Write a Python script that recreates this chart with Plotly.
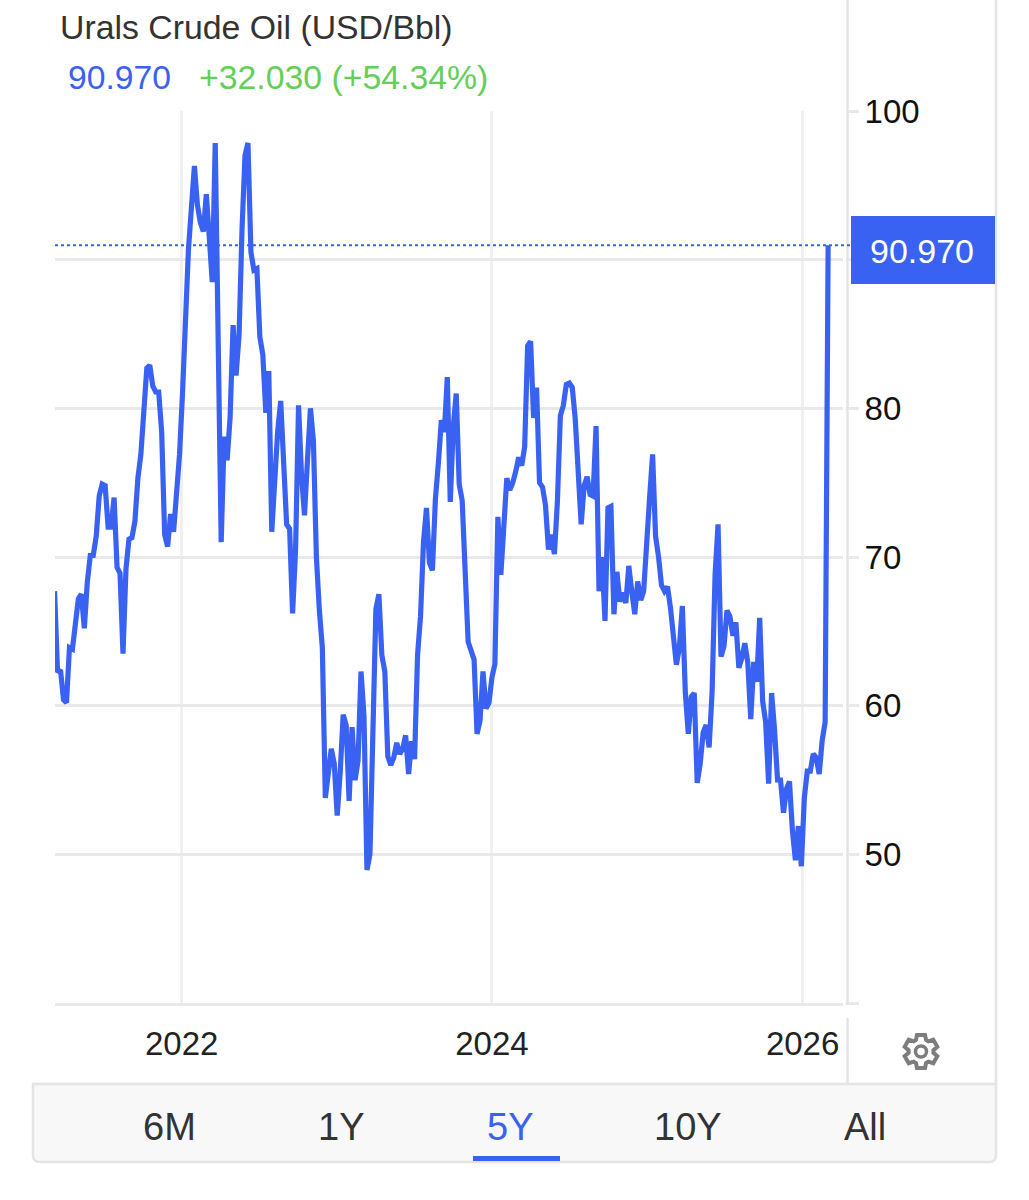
import numpy as np
import pandas as pd
import plotly.graph_objects as go

BLUE = "#3a62f2"
GRID = "#e9e9eb"
VGRID = "#f0f0f2"
EDGE = "#e4e4e6"
FONT = "Liberation Sans"

# weekly Urals close
urals = [
    67.7, 62.25, 62.4, 60.4, 60.2, 63.9, 63.8, 65.8, 67.2, 67.5,
    65.2, 68.3, 70.1, 70.1, 71.4, 74.1, 74.9, 74.8, 72.0, 72.0,
    74.0, 69.3, 68.9, 63.5, 69.2, 71.2, 71.3, 72.4, 75.3, 76.9,
    80.2, 82.7, 82.9, 81.5, 81.1, 81.1, 78.4, 71.5, 70.7, 72.9,
    71.7, 74.0, 76.9, 81.0, 86.5, 90.7, 93.5, 96.3, 93.7, 92.5,
    91.9, 94.4, 91.5, 88.5, 97.85, 86.0, 71.0, 78.1, 76.5, 79.4,
    85.6, 82.2, 84.9, 92.0, 97.0, 97.85, 90.5, 89.3, 89.4, 84.8,
    83.6, 79.7, 82.5, 71.7, 75.3, 78.5, 80.5, 75.2, 72.2, 71.9,
    66.2, 70.5, 80.2, 75.5, 72.8, 76.5, 80.0, 77.8, 70.0, 66.4,
    63.9, 53.8, 55.5, 57.1, 56.1, 52.6, 55.5, 59.4, 58.7, 53.6,
    58.55, 55.0, 56.3, 62.3, 59.3, 48.95, 50.0, 58.3, 66.5, 67.5,
    63.4, 62.3, 56.6, 56.0, 56.5, 57.5, 56.75, 57.1, 58.0, 55.4,
    57.6, 56.4, 63.4, 66.0, 71.0, 73.3, 69.6, 69.1, 73.9, 76.3,
    79.2, 78.4, 82.1, 73.7, 78.75, 81.0, 74.9, 73.8, 69.1, 64.3,
    63.7, 63.1, 58.1, 59.0, 62.3, 59.8, 60.2, 61.9, 62.8, 72.7,
    68.8, 72.5, 75.3, 74.5, 75.0, 75.75, 76.7, 76.15, 77.4, 84.2,
    84.5, 79.35, 81.4, 75.0, 74.7, 73.5, 70.5, 71.5, 70.2, 73.7,
    79.5, 80.2, 81.6, 81.7, 81.4, 79.3, 75.35, 72.2, 74.8, 75.4,
    74.2, 74.1, 78.8, 67.7, 70.0, 65.7, 73.3, 73.4, 66.15, 69.0,
    67.0, 67.6, 66.9, 69.4, 67.7, 66.15, 68.35, 67.1, 67.7, 71.4,
    74.0, 76.9, 71.4, 70.0, 68.1, 67.7, 68.0, 66.6, 64.3, 62.75,
    63.9, 66.7, 60.9, 58.1, 60.6, 60.85, 54.8, 56.1, 58.2, 58.7,
    57.2, 60.9, 68.8, 72.2, 63.3, 64.0, 66.4, 66.0, 64.7, 65.6,
    62.55, 63.2, 64.2, 62.9, 59.1, 62.95, 61.6, 65.9, 60.3, 58.9,
    54.75, 60.85, 58.35, 55.0, 55.0, 52.8, 54.4, 54.9, 51.6, 49.6,
    51.9, 49.2, 53.8, 55.6, 55.6, 56.75, 56.5, 55.4, 57.65, 58.9,
    90.97,
]
dates = pd.date_range("2021-03-08", periods=len(urals), freq="7D")

year_ticks = ["2022-01-01", "2024-01-01", "2026-01-01"]
year_labels = ["2022", "2024", "2026"]
y_ticks = [40, 50, 60, 70, 80, 90, 100]
y_labels = ["", "50", "60", "70", "80", "", "100"]

tabs = ["6M", "1Y", "5Y", "10Y", "All"]
tab_centers = [169, 341, 510, 688, 865]

# plot box in page pixels
L, R, T, B = 55, 843, 111, 1003


def px(x):
    return (x - L) / (R - L)


def py(y):
    return (B - y) / (B - T)


fig = go.Figure()
fig.add_trace(go.Scatter(x=dates, y=urals, mode="lines",
                         line=dict(color=BLUE, width=5.2)))

shapes = [
    # bottom tab panel
    dict(type="path", layer="below",
         path=f"M {px(33)} {py(1084)} L {px(996)} {py(1084)} L {px(996)} {py(1155)} "
              f"Q {px(996)} {py(1162)} {px(989)} {py(1162)} L {px(40)} {py(1162)} "
              f"Q {px(33)} {py(1162)} {px(33)} {py(1155)} Z",
         fillcolor="#f8f8f9", line=dict(color=EDGE, width=2.5)),
    dict(type="line", x0=px(996), x1=px(996), y0=py(1084), y1=py(0),
         line=dict(color=EDGE, width=2.5)),
    # gap between the grid and the right edge
    dict(type="rect", x0=px(843.5), x1=px(846), y0=py(0), y1=py(1010),
         fillcolor="white", line=dict(width=0)),
    # right edge of the plot
    dict(type="line", x0=px(847.5), x1=px(847.5), y0=py(0), y1=py(1005),
         line=dict(color=EDGE, width=2.5)),
    dict(type="line", x0=px(847.5), x1=px(847.5), y0=py(1018), y1=py(1084),
         line=dict(color=EDGE, width=2.5)),
    # last value line and badge
    dict(type="line", xref="paper", yref="y", x0=0, x1=px(851),
         y0=urals[-1], y1=urals[-1], line=dict(color=BLUE, width=2.2, dash="dot")),
    dict(type="rect", x0=px(851), x1=px(995), y0=py(216), y1=py(284),
         fillcolor=BLUE, line=dict(width=0)),
    # underline of the active tab
    dict(type="rect", x0=px(473), x1=px(560), y0=py(1156), y1=py(1161),
         fillcolor=BLUE, line=dict(width=0)),
]
for shape in shapes:
    shape.setdefault("xref", "paper")
    shape.setdefault("yref", "paper")
    fig.add_shape(**shape)

# settings gear
cx, cy = 921, 1051.5
pts = []
for i in range(6):
    a = i * np.pi / 3 - np.pi / 2
    for off, r in [(-0.42, 12.5), (-0.24, 17), (0.24, 17), (0.42, 12.5)]:
        pts.append((cx + r * np.cos(a + off), cy + r * np.sin(a + off)))
gear = "M " + " L ".join(f"{px(x):.5f} {py(y):.5f}" for x, y in pts) + " Z"
fig.add_shape(type="path", xref="paper", yref="paper", path=gear,
              line=dict(color="#7d7d7d", width=4))
fig.add_shape(type="circle", xref="paper", yref="paper",
              x0=px(cx - 5.5), x1=px(cx + 5.5), y0=py(cy + 5.5), y1=py(cy - 5.5),
              line=dict(color="#7d7d7d", width=3.5))


def label(x, y, text, size, color="#222222", anchor="left"):
    fig.add_annotation(x=px(x), y=py(y), xref="paper", yref="paper", text=text,
                       showarrow=False, xanchor=anchor, yanchor="middle",
                       font=dict(family=FONT, size=size, color=color))


label(58, 26.5, "Urals Crude Oil (USD/Bbl)", 33.8, "#333333")
label(66, 76.5, "90.970", 33.7, BLUE)
label(197, 76.5, "+32.030 (+54.34%)", 33.8, "#63cf58")
label(922, 251, "90.970", 34, "#ffffff", "center")
for name, center in zip(tabs, tab_centers):
    label(center, 1127, name, 38, BLUE if name == "5Y" else "#333333", "center")

fig.update_layout(
    width=1029, height=1200,
    margin=dict(l=L, r=1029 - R, t=T, b=1200 - B, pad=0),
    paper_bgcolor="white", plot_bgcolor="white",
    showlegend=False,
    font=dict(family=FONT, color="#222222"),
)
fig.update_xaxes(range=["2021-03-09", "2026-04-06"], tickvals=year_ticks, ticktext=year_labels,
                 showgrid=True, gridcolor=VGRID, gridwidth=2.5, zeroline=False,
                 showline=True, linecolor=GRID, linewidth=2.5,
                 ticks="outside", ticklen=10, tickcolor="rgba(0,0,0,0)",
                 tickfont=dict(size=33, color="#222222"))
fig.update_yaxes(range=[40, 100], side="right", tickvals=y_ticks, ticktext=y_labels,
                 showgrid=True, gridcolor=GRID, gridwidth=2.5, zeroline=False,
                 ticks="outside", ticklen=15, tickcolor=GRID, tickwidth=2.5,
                 ticklabelstandoff=-1,
                 tickfont=dict(size=33, color="#111111"))

fig.write_html("out.html", config={"displayModeBar": False},
               post_script="document.body.style.margin='0';")
